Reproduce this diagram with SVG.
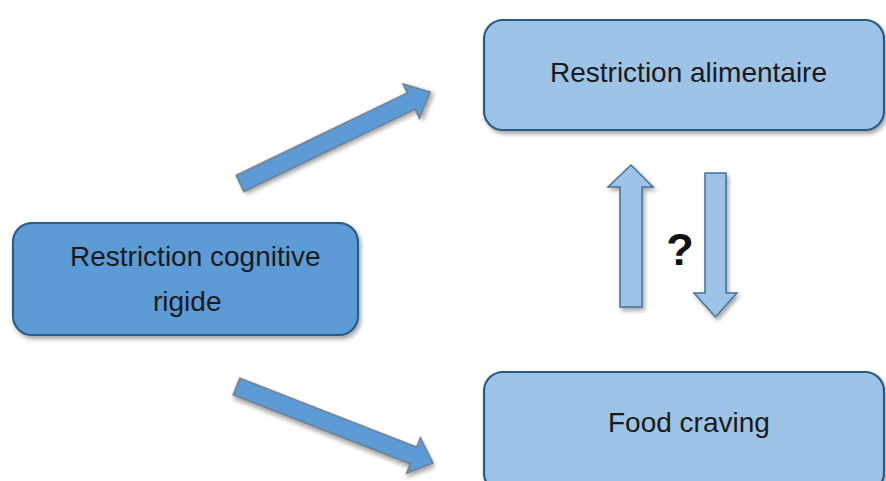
<svg xmlns="http://www.w3.org/2000/svg" width="886" height="481" viewBox="0 0 886 481">
  <defs>
    <filter id="shadow" x="-20%" y="-20%" width="140%" height="150%">
      <feDropShadow dx="2" dy="3" stdDeviation="2.2" flood-color="#000" flood-opacity="0.35"/>
    </filter>
    <!-- block arrow pointing along +x, tail at origin -->
    <path id="diag-arrow" d="M0,-9 L190,-9 L190,-19 L211,0 L190,19 L190,9 L0,9 Z"/>
  </defs>
  <style>
    .box { stroke: #2a5b86; stroke-width: 2.2; filter: url(#shadow); }
    .dark { fill: #5b9bd5; }
    .light { fill: #9dc3e6; }
    .label { font-family: "Liberation Sans", Arial, sans-serif; font-size: 28px; fill: #1a1a1a; }
    .q { font-family: "Liberation Sans", Arial, sans-serif; font-size: 45px; font-weight: bold; fill: #111; text-anchor: middle; }
    .arrow-dark { fill: #5b9bd5; stroke: #6f7a85; stroke-width: 1.5; filter: url(#shadow); }
    .arrow-light { fill: #9dc3e6; stroke: #41719c; stroke-width: 1.5; filter: url(#shadow); }
  </style>

  <rect width="886" height="481" fill="#ffffff"/>

  <g id="connectors">
    <use href="#diag-arrow" class="arrow-dark" transform="translate(240,183.5) rotate(-25.7)"/>
    <use href="#diag-arrow" class="arrow-dark" transform="translate(236.5,386.5) rotate(21.3)"/>
    <!-- upward arrow -->
    <path class="arrow-light" d="M620,307 L620,187 L608,187 L631,165 L653,187 L642,187 L642,307 Z"/>
    <!-- downward arrow -->
    <path class="arrow-light" d="M705,173 L726,173 L726,293 L737,293 L715.5,317 L694,293 L705,293 Z"/>
    <text class="q" x="680" y="265">?</text>
  </g>

  <g id="node-restriction-cognitive">
    <rect class="box dark" x="13" y="223" width="345" height="112" rx="19"/>
    <text class="label" x="70" y="266">Restriction cognitive</text>
    <text class="label" x="153" y="311">rigide</text>
  </g>

  <g id="node-restriction-alimentaire">
    <rect class="box light" x="484" y="20" width="400" height="110" rx="19"/>
    <text class="label" x="550" y="82">Restriction alimentaire</text>
  </g>

  <g id="node-food-craving">
    <rect class="box light" x="484" y="372" width="400" height="120" rx="19"/>
    <text class="label" x="608" y="432">Food craving</text>
  </g>
</svg>
